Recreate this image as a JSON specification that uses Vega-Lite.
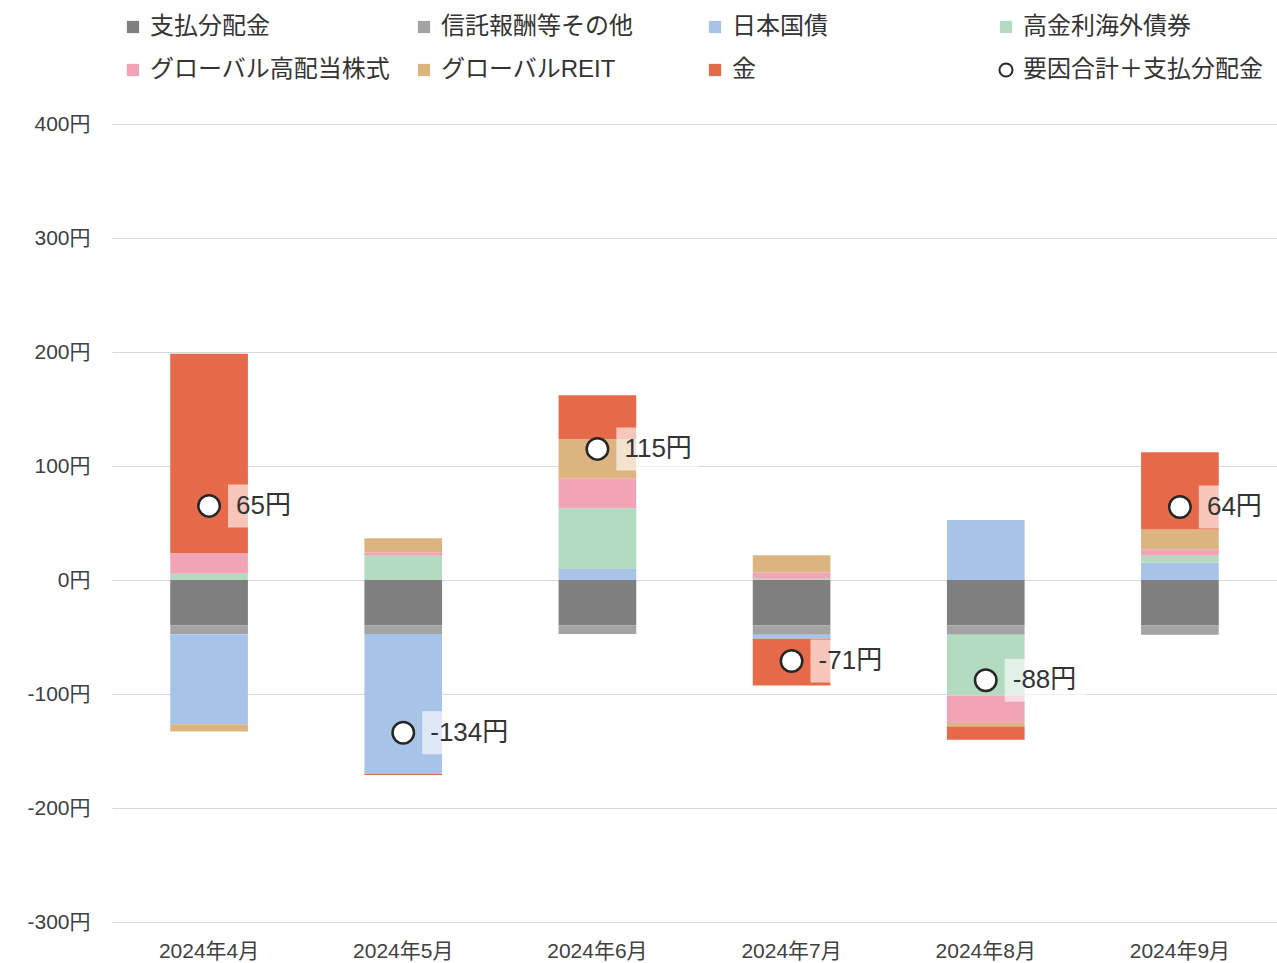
{
  "$schema": "https://vega.github.io/schema/vega-lite/v6.json",
  "width": 1165,
  "height": 798,
  "autosize": {"type": "none"},
  "padding": {"left": 112, "top": 124, "right": 0, "bottom": 41},
  "background": "white",
  "config": {
    "font": "Liberation Sans, Noto Sans CJK JP",
    "view": {"stroke": null},
    "axis": {"labelColor": "#404040", "labelFont": "Liberation Sans, Noto Sans CJK JP"}
  },
  "datasets": {
    "bars": [
      {"month": "2024年4月", "factor": "支払分配金", "idx": 0, "value": -40},
      {"month": "2024年4月", "factor": "信託報酬等その他", "idx": 1, "value": -7.5},
      {"month": "2024年4月", "factor": "日本国債", "idx": 2, "value": -79},
      {"month": "2024年4月", "factor": "高金利海外債券", "idx": 3, "value": 5.5},
      {"month": "2024年4月", "factor": "グローバル高配当株式", "idx": 4, "value": 18},
      {"month": "2024年4月", "factor": "グローバルREIT", "idx": 5, "value": -6.5},
      {"month": "2024年4月", "factor": "金", "idx": 6, "value": 175},
      {"month": "2024年5月", "factor": "支払分配金", "idx": 0, "value": -40},
      {"month": "2024年5月", "factor": "信託報酬等その他", "idx": 1, "value": -7.4},
      {"month": "2024年5月", "factor": "日本国債", "idx": 2, "value": -122.6},
      {"month": "2024年5月", "factor": "高金利海外債券", "idx": 3, "value": 21.3},
      {"month": "2024年5月", "factor": "グローバル高配当株式", "idx": 4, "value": 3},
      {"month": "2024年5月", "factor": "グローバルREIT", "idx": 5, "value": 12.3},
      {"month": "2024年5月", "factor": "金", "idx": 6, "value": -1},
      {"month": "2024年6月", "factor": "支払分配金", "idx": 0, "value": -40},
      {"month": "2024年6月", "factor": "信託報酬等その他", "idx": 1, "value": -7.4},
      {"month": "2024年6月", "factor": "日本国債", "idx": 2, "value": 9.6},
      {"month": "2024年6月", "factor": "高金利海外債券", "idx": 3, "value": 53.3},
      {"month": "2024年6月", "factor": "グローバル高配当株式", "idx": 4, "value": 26.3},
      {"month": "2024年6月", "factor": "グローバルREIT", "idx": 5, "value": 34.2},
      {"month": "2024年6月", "factor": "金", "idx": 6, "value": 38.6},
      {"month": "2024年7月", "factor": "支払分配金", "idx": 0, "value": -40},
      {"month": "2024年7月", "factor": "信託報酬等その他", "idx": 1, "value": -8},
      {"month": "2024年7月", "factor": "日本国債", "idx": 2, "value": -3.5},
      {"month": "2024年7月", "factor": "高金利海外債券", "idx": 3, "value": 1},
      {"month": "2024年7月", "factor": "グローバル高配当株式", "idx": 4, "value": 5.5},
      {"month": "2024年7月", "factor": "グローバルREIT", "idx": 5, "value": 15.2},
      {"month": "2024年7月", "factor": "金", "idx": 6, "value": -41},
      {"month": "2024年8月", "factor": "支払分配金", "idx": 0, "value": -40},
      {"month": "2024年8月", "factor": "信託報酬等その他", "idx": 1, "value": -8},
      {"month": "2024年8月", "factor": "日本国債", "idx": 2, "value": 52.6},
      {"month": "2024年8月", "factor": "高金利海外債券", "idx": 3, "value": -53.3},
      {"month": "2024年8月", "factor": "グローバル高配当株式", "idx": 4, "value": -24.2},
      {"month": "2024年8月", "factor": "グローバルREIT", "idx": 5, "value": -3},
      {"month": "2024年8月", "factor": "金", "idx": 6, "value": -11.7},
      {"month": "2024年9月", "factor": "支払分配金", "idx": 0, "value": -40},
      {"month": "2024年9月", "factor": "信託報酬等その他", "idx": 1, "value": -8},
      {"month": "2024年9月", "factor": "日本国債", "idx": 2, "value": 15.2},
      {"month": "2024年9月", "factor": "高金利海外債券", "idx": 3, "value": 6.7},
      {"month": "2024年9月", "factor": "グローバル高配当株式", "idx": 4, "value": 5},
      {"month": "2024年9月", "factor": "グローバルREIT", "idx": 5, "value": 17.5},
      {"month": "2024年9月", "factor": "金", "idx": 6, "value": 67.6}
    ],
    "totals": [
      {"month": "2024年4月", "total": 65, "label": "65円"},
      {"month": "2024年5月", "total": -134, "label": "-134円"},
      {"month": "2024年6月", "total": 115, "label": "115円"},
      {"month": "2024年7月", "total": -71, "label": "-71円"},
      {"month": "2024年8月", "total": -88, "label": "-88円"},
      {"month": "2024年9月", "total": 64, "label": "64円"}
    ]
  },
  "encoding": {
    "x": {
      "field": "month", "type": "nominal",
      "sort": ["2024年4月", "2024年5月", "2024年6月", "2024年7月", "2024年8月", "2024年9月"],
      "scale": {"paddingInner": 0.6, "paddingOuter": 0.3},
      "axis": {"title": null, "labelAngle": 0, "ticks": false, "domain": false, "labelFontSize": 21, "labelPadding": 18, "labelColor": "#404040"}
    }
  },
  "layer": [
    {
      "data": {"name": "bars"},
      "mark": {"type": "bar"},
      "encoding": {
        "y": {
          "field": "value", "type": "quantitative", "stack": "zero",
          "scale": {"domain": [-300, 400], "nice": false},
          "axis": {"title": null, "values": [-300, -200, -100, 0, 100, 200, 300, 400], "labelExpr": "datum.value + '円'", "labelFontSize": 21, "labelPadding": 22, "ticks": false, "domain": false, "gridColor": "#d9d9d9", "gridWidth": 1, "labelColor": "#404040"}
        },
        "color": {
          "field": "factor", "type": "nominal",
          "scale": {
            "domain": ["支払分配金", "信託報酬等その他", "日本国債", "高金利海外債券", "グローバル高配当株式", "グローバルREIT", "金", "要因合計＋支払分配金"],
            "range": ["#7f7f7f", "#a3a3a3", "#a8c3e8", "#b2dbc1", "#f0a4b5", "#dcb480", "#e6694a", "#ffffff"]
          },
          "legend": {
            "title": null,
            "orient": "none",
            "legendX": 9,
            "legendY": -109,
            "direction": "horizontal",
            "columns": 4,
            "gridAlign": "all",
            "columnPadding": 22,
            "rowPadding": 19,
            "labelFontSize": 24,
            "labelColor": "#333333",
            "labelLimit": 400,
            "labelOffset": 5,
            "symbolSize": 150,
            "symbolType": "square",
            "symbolStrokeWidth": 0,
            "encode": {
              "symbols": {
                "update": {
                  "shape": {"signal": "datum.value === '要因合計＋支払分配金' ? 'circle' : 'square'"},
                  "size": {"signal": "datum.value === '要因合計＋支払分配金' ? 170 : 150"},
                  "stroke": {"signal": "datum.value === '要因合計＋支払分配金' ? '#262626' : 'transparent'"},
                  "strokeWidth": {"value": 2}
                }
              }
            }
          }
        },
        "order": {"field": "idx", "type": "quantitative"}
      }
    },
    {
      "mark": {"type": "rule", "color": "#595959", "strokeWidth": 1.5},
      "encoding": {"y": {"datum": 0, "type": "quantitative"}, "x": {"value": 0}, "x2": {"value": 1165}}
    },
    {
      "data": {"name": "totals"},
      "mark": {"type": "point", "shape": "M0.88,-1H4.7V1H0.88Z", "size": 1849, "filled": true, "fill": "white", "fillOpacity": 0.62, "strokeWidth": 0},
      "encoding": {"y": {"field": "total", "type": "quantitative"}}
    },
    {
      "data": {"name": "totals"},
      "mark": {"type": "point", "shape": "circle", "size": 460, "filled": true, "fill": "white", "stroke": "#262626", "strokeWidth": 2.5, "opacity": 1},
      "encoding": {"y": {"field": "total", "type": "quantitative"}}
    },
    {
      "data": {"name": "totals"},
      "mark": {"type": "text", "align": "left", "baseline": "middle", "dx": 27, "fontSize": 26, "color": "#333333"},
      "encoding": {"y": {"field": "total", "type": "quantitative"}, "text": {"field": "label"}}
    }
  ]
}
